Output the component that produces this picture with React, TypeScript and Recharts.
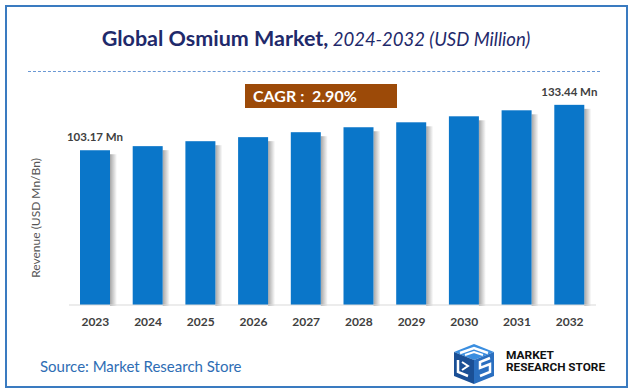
import React from 'react';
import { BarChart, Bar, XAxis, YAxis } from 'recharts';

const years = ['2023', '2024', '2025', '2026', '2027', '2028', '2029', '2030', '2031', '2032'];
const revenue = [103.17, 105.9, 109.2, 111.9, 115.2, 118.5, 121.8, 125.8, 129.8, 133.44];
const cagrText = 'CAGR :  2.90%';

const data = years.map((year, i) => ({ year, value: revenue[i] }));

const FONT = 'Lato, "Open Sans", sans-serif';
const BAR = '#0a76c9';

function ShadowBar(props: any) {
  const { x, y, width, height, index, value } = props;
  if (height <= 0) return null;
  const showLabel = index === 0 || index === revenue.length - 1;
  return (
    <g>
      <rect x={x + width} y={y + 4} width={7} height={height - 3} fill="url(#barShadow)" />
      <rect x={x} y={y} width={width} height={height} fill={BAR} />
      {showLabel && (
        <text x={x + width / 2} y={y - 9} textAnchor="middle" fill="#404040"
          fontFamily={FONT} fontWeight={700} fontSize={11.5}>
          {`${value.toFixed(2)} Mn`}
        </text>
      )}
    </g>
  );
}

function Logo() {
  return (
    <svg width={170} height={48} style={{ position: 'absolute', left: 448, top: 340 }}>
      <polygon points="6,12 26,4 46,12 26,20" fill="#3a8ee0" />
      <polygon points="6,12 26,20 26,44 6,36" fill="#1a4f95" />
      <polygon points="26,20 46,12 46,36 26,44" fill="#2a6fc0" />
      <polyline points="12,13 26,8 40,13" stroke="#fff" strokeWidth={2.5} fill="none" />
      <polyline points="17,15 26,12 35,15" stroke="#fff" strokeWidth={2} fill="none" />
      <polyline points="10,20 10,32 20,36" stroke="#fff" strokeWidth={2.5} fill="none" />
      <polyline points="14,22 20,26 14,30" stroke="#fff" strokeWidth={2} fill="none" />
      <polyline points="42,18 32,22 32,28 42,24 42,32 32,36" stroke="#fff" strokeWidth={2.5} fill="none" />
      <text x={58} y={19} fontFamily="Roboto, sans-serif" fontWeight={700} fontSize={11} fill="#111"
        textLength={48} lengthAdjust="spacingAndGlyphs">MARKET</text>
      <text x={58} y={31} fontFamily="Roboto, sans-serif" fontWeight={700} fontSize={11} fill="#111"
        textLength={99} lengthAdjust="spacingAndGlyphs">RESEARCH STORE</text>
    </svg>
  );
}

export default function App() {
  return (
    <div style={{ position: 'absolute', left: 0, top: 0, width: 632, height: 392, background: '#fff', fontFamily: FONT }}>
      <div style={{ position: 'absolute', left: 5, top: 5, width: 619, height: 379, border: '2px solid #3a7bc0' }} />

      <div style={{ position: 'absolute', left: 0, top: 25, width: 632, textAlign: 'center', color: '#1f2a6b', whiteSpace: 'nowrap' }}>
        <span style={{ fontWeight: 700, fontSize: 21.5 }}>Global Osmium Market,</span>
        <span style={{ fontStyle: 'italic', fontSize: 18.5 }}> 2024-2032 (USD Million)</span>
      </div>

      <div style={{ position: 'absolute', left: 28, top: 71, width: 572, borderTop: '1.5px dashed #6a98d4' }} />

      <div style={{
        position: 'absolute', left: 245, top: 84, width: 152, height: 24, background: '#9c4a08',
        color: '#fff', fontWeight: 700, fontSize: 16, lineHeight: '24px', paddingLeft: 8, boxSizing: 'border-box', whiteSpace: 'pre',
      }}>{cagrText}</div>

      <div style={{
        position: 'absolute', left: 35, top: 218, transform: 'translate(-50%, -50%) rotate(-90deg)',
        whiteSpace: 'nowrap', fontSize: 12, color: '#555',
      }}>Revenue (USD Mn/Bn)</div>

      <div style={{ position: 'absolute', left: 0, top: 0 }}>
        <BarChart width={632} height={392} data={data} margin={{ top: 95, right: 36, bottom: 57, left: 69 }} barSize={30}>
          <defs>
            <linearGradient id="barShadow" x1="0" y1="0" x2="1" y2="0">
              <stop offset="0%" stopColor="#000" stopOpacity={0.35} />
              <stop offset="100%" stopColor="#000" stopOpacity={0} />
            </linearGradient>
          </defs>
          <XAxis dataKey="year" tickLine={false} axisLine={{ stroke: '#d9d9d9' }}
            tick={{ fill: '#404040', fontSize: 12, fontWeight: 700, fontFamily: FONT }} tickMargin={6} />
          <YAxis hide domain={[0, 140]} />
          <Bar dataKey="value" fill={BAR} shape={ShadowBar} isAnimationActive={false} />
        </BarChart>
      </div>

      <div style={{ position: 'absolute', left: 40, top: 357, fontSize: 15, color: '#2e6db4', whiteSpace: 'nowrap' }}>
        Source: Market Research Store
      </div>

      <Logo />
    </div>
  );
}
